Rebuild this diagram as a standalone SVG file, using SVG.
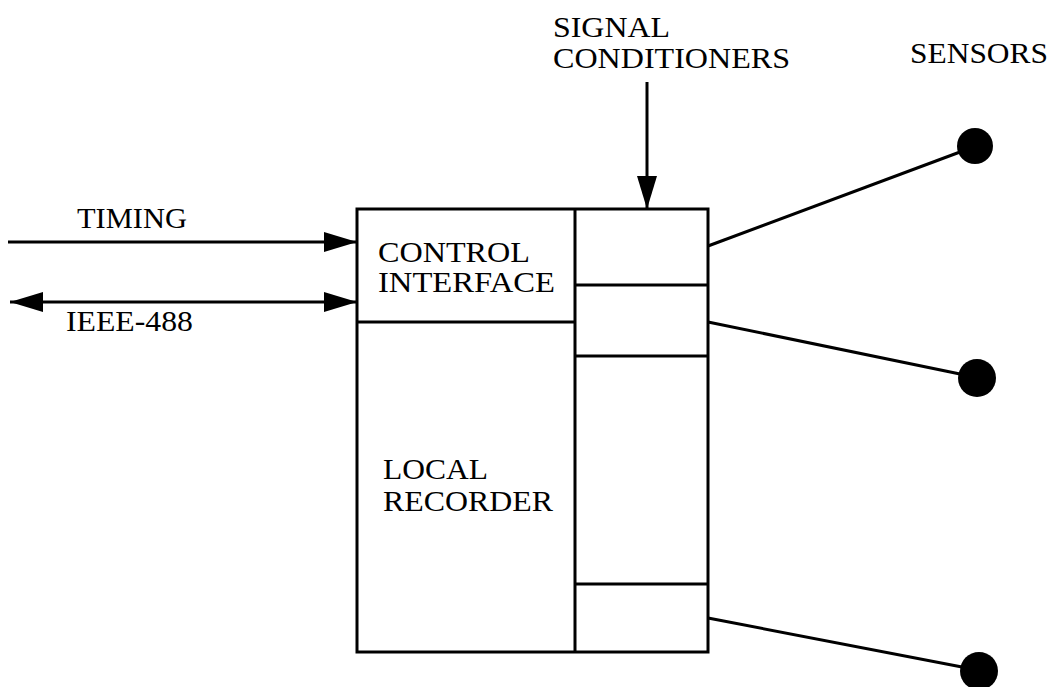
<svg xmlns="http://www.w3.org/2000/svg" width="1056" height="687" viewBox="0 0 1056 687">
<style>
text{font-family:"Liberation Serif","DejaVu Serif","Times New Roman",serif;font-size:29px;fill:#000}
.ln{stroke:#000;stroke-width:3;fill:none}
.box{stroke:#000;stroke-width:3;fill:none}
</style>
<defs>
<marker id="ah" viewBox="0 0 33 20" refX="33" refY="10" markerWidth="33" markerHeight="20" markerUnits="userSpaceOnUse" orient="auto-start-reverse">
<path d="M0,0 L33,10 L0,20 Z" fill="#000"/>
</marker>
</defs>
<rect width="1056" height="687" fill="#fff"/>
<g id="unit">
<rect class="box" x="357" y="209" width="351" height="443"/>
<line class="ln" x1="575" y1="209" x2="575" y2="652"/>
</g>
<g id="control-interface">
<line class="ln" x1="357" y1="322" x2="575" y2="322"/>
<text x="378" y="262" textLength="152" lengthAdjust="spacingAndGlyphs" font-family="Liberation Serif, serif">CONTROL</text>
<text x="378" y="292" textLength="177" lengthAdjust="spacingAndGlyphs" font-family="Liberation Serif, serif">INTERFACE</text>
</g>
<g id="local-recorder">
<text x="383" y="479" textLength="105" lengthAdjust="spacingAndGlyphs" font-family="Liberation Serif, serif">LOCAL</text>
<text x="383" y="511" textLength="170" lengthAdjust="spacingAndGlyphs" font-family="Liberation Serif, serif">RECORDER</text>
</g>
<g id="signal-conditioners">
<line class="ln" x1="575" y1="285" x2="708" y2="285"/>
<line class="ln" x1="575" y1="356" x2="708" y2="356"/>
<line class="ln" x1="575" y1="584" x2="708" y2="584"/>
<text x="553" y="37" textLength="117" lengthAdjust="spacingAndGlyphs" font-family="Liberation Serif, serif">SIGNAL</text>
<text x="553" y="68" textLength="237" lengthAdjust="spacingAndGlyphs" font-family="Liberation Serif, serif">CONDITIONERS</text>
</g>
<g id="sensors">
<text x="910" y="63" textLength="138" lengthAdjust="spacingAndGlyphs" font-family="Liberation Serif, serif">SENSORS</text>
<circle id="sensor1" cx="975" cy="146" r="18" fill="#000"/>
<circle id="sensor2" cx="977" cy="378" r="19" fill="#000"/>
<circle id="sensor3" cx="979" cy="671" r="19" fill="#000"/>
</g>
<g id="labels">
<text x="77" y="228" textLength="110" lengthAdjust="spacingAndGlyphs" font-family="Liberation Serif, serif">TIMING</text>
<text x="66" y="331" textLength="127" lengthAdjust="spacingAndGlyphs" font-family="Liberation Serif, serif">IEEE-488</text>
</g>
<g id="connectors">
<line class="ln" x1="8" y1="242" x2="357" y2="242" marker-end="url(#ah)"/>
<line class="ln" x1="10" y1="302" x2="357" y2="302" marker-start="url(#ah)" marker-end="url(#ah)"/>
<line class="ln" x1="647" y1="82" x2="647" y2="209" marker-end="url(#ah)"/>
<line class="ln" x1="708" y1="246" x2="960" y2="152"/>
<line class="ln" x1="708" y1="322" x2="960" y2="374"/>
<line class="ln" x1="708" y1="618" x2="962" y2="667"/>
</g>
</svg>
